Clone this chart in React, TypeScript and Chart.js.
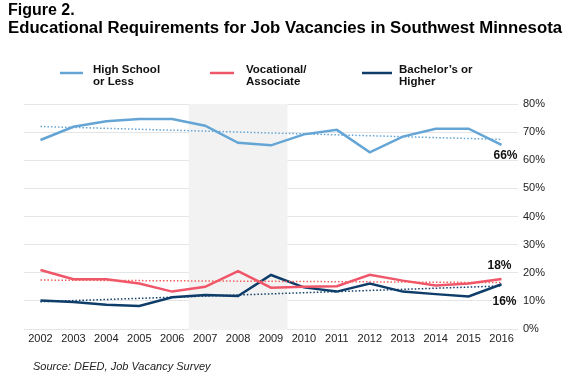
import React, { useEffect, useRef } from "react";
import { Chart, registerables } from "chart.js";

Chart.register(...registerables);

const years = ["2002","2003","2004","2005","2006","2007","2008","2009","2010","2011","2012","2013","2014","2015","2016"];
const highSchool = [67.2, 71.9, 73.9, 74.7, 74.7, 72.3, 66.2, 65.3, 69.2, 70.8, 62.8, 68.4, 71.2, 71.2, 65.5];
const vocational = [21.0, 17.7, 17.7, 16.2, 13.3, 15.0, 20.6, 14.7, 15.0, 15.2, 19.3, 17.2, 15.5, 16.2, 17.8];
const bachelors = [10.1, 9.6, 8.6, 8.2, 11.3, 12.1, 11.7, 19.2, 14.8, 13.3, 16.2, 13.3, 12.4, 11.6, 15.9];
const highTrendEnds = [72.0, 67.4];
const vocTrendEnds = [17.4, 16.5];
const bachTrendEnds = [9.7, 15.3];
const yTicks = [0, 10, 20, 30, 40, 50, 60, 70, 80];
const shadeFrom = "2006";
const shadeTo = "2009";
const endLabels = ["66%", "18%", "16%"];
const legendLabels = [["High School", "or Less"], ["Vocational/", "Associate"], ["Bachelor\u2019s or", "Higher"]];
const titleLines = ["Figure 2.", "Educational Requirements for Job Vacancies in Southwest Minnesota"];
const sourceText = "Source: DEED, Job Vacancy Survey";

const C_HS = "#64a5d6";
const C_VOC = "#f0566a";
const C_BA = "#0f3d6a";
const FONT = "'Liberation Sans', Arial, Helvetica, sans-serif";

function trend(ends: number[]) {
  return years.map((_, i) => (i === 0 ? ends[0] : i === years.length - 1 ? ends[1] : null));
}

export default function App() {
  const ref = useRef<HTMLCanvasElement>(null);
  useEffect(() => {
    const canvas = ref.current!;
    const decor = {
      id: "decor",
      beforeDatasetsDraw(chart: any) {
        const { ctx, chartArea, scales } = chart;
        const x = scales.x;
        const i0 = years.indexOf(shadeFrom);
        const i1 = years.indexOf(shadeTo);
        const left = (x.getPixelForValue(i0) + x.getPixelForValue(i0 + 1)) / 2;
        const right = (x.getPixelForValue(i1) + x.getPixelForValue(i1 + 1)) / 2;
        ctx.save();
        ctx.fillStyle = "#f2f2f2";
        ctx.fillRect(left, chartArea.top, right - left, chartArea.bottom - chartArea.top + 1);
        ctx.restore();
      },
      afterDraw(chart: any) {
        const { ctx, scales } = chart;
        ctx.save();
        // title
        ctx.fillStyle = "#000";
        ctx.textBaseline = "alphabetic";
        ctx.textAlign = "left";
        ctx.font = `bold 16px ${FONT}`;
        ctx.fillText(titleLines[0], 8, 15);
        const w = ctx.measureText(titleLines[1]).width;
        ctx.save();
        ctx.translate(8, 33);
        ctx.scale(554 / w, 1);
        ctx.fillText(titleLines[1], 0, 0);
        ctx.restore();
        // legend
        const colors = [C_HS, C_VOC, C_BA];
        const swX = [60, 210, 362];
        const swW = [23, 24, 30];
        const txX = [93, 246, 399];
        ctx.font = `bold 11.5px ${FONT}`;
        ctx.textBaseline = "middle";
        legendLabels.forEach((lines, k) => {
          ctx.strokeStyle = colors[k];
          ctx.lineWidth = 2.5;
          ctx.beginPath();
          ctx.moveTo(swX[k], 73);
          ctx.lineTo(swX[k] + swW[k], 73);
          ctx.stroke();
          ctx.fillStyle = "#111";
          ctx.fillText(lines[0], txX[k], 69.5);
          ctx.fillText(lines[1], txX[k], 82);
        });
        // end labels
        const x = scales.x;
        const y = scales.y;
        const last = years.length - 1;
        const xl = x.getPixelForValue(last);
        ctx.font = `bold 12px ${FONT}`;
        ctx.fillStyle = "#111";
        ctx.textAlign = "right";
        ctx.fillText(endLabels[0], xl + 16, y.getPixelForValue(highSchool[last]) + 11);
        ctx.textAlign = "center";
        ctx.fillText(endLabels[1], xl - 2, y.getPixelForValue(vocational[last]) - 13);
        ctx.textAlign = "right";
        ctx.fillText(endLabels[2], xl + 15, y.getPixelForValue(bachelors[last]) + 17);
        // source
        ctx.font = `italic 11px ${FONT}`;
        ctx.textAlign = "left";
        ctx.fillStyle = "#222";
        ctx.fillText(sourceText, 33, 367);
        ctx.restore();
      },
    };
    const solid = (data: number[], color: string) => ({
      data,
      borderColor: color,
      backgroundColor: color,
      borderWidth: 2.5,
      pointRadius: 0,
      tension: 0,
      fill: false,
    });
    const dotted = (data: (number | null)[], color: string) => ({
      data,
      borderColor: color,
      borderWidth: 1.5,
      borderDash: [1.5, 2],
      pointRadius: 0,
      spanGaps: true,
      fill: false,
    });
    const chart = new Chart(canvas, {
      type: "line",
      data: {
        labels: years,
        datasets: [
          dotted(trend(highTrendEnds), C_HS),
          dotted(trend(vocTrendEnds), "#f0605a"),
          dotted(trend(bachTrendEnds), C_BA),
          solid(vocational, C_VOC),
          solid(bachelors, C_BA),
          solid(highSchool, C_HS),
        ] as any,
      },
      options: {
        responsive: false,
        animation: false,
        devicePixelRatio: 1,
        layout: { padding: { left: 24, right: 0, top: 104, bottom: 26 } },
        plugins: { legend: { display: false }, tooltip: { enabled: false }, title: { display: false } },
        scales: {
          x: {
            type: "category",
            offset: true,
            grid: { display: false, drawTicks: false },
            border: { display: false },
            ticks: { color: "#222", font: { family: FONT, size: 11 }, padding: 3, maxRotation: 0, autoSkip: false },
            afterFit: (s: any) => { s.height = 20; },
          },
          y: {
            position: "right",
            min: 0,
            max: 80,
            afterBuildTicks: (s: any) => { s.ticks = yTicks.map((v) => ({ value: v })); },
            grid: { color: "#e5e5e5", lineWidth: 1, drawTicks: false },
            border: { display: false },
            ticks: { color: "#222", font: { family: FONT, size: 11 }, padding: 5, callback: (v: any) => v + "%" },
            afterFit: (s: any) => { s.width = 46; },
          },
        },
      } as any,
      plugins: [decor],
    });
    return () => chart.destroy();
  }, []);
  return (
    <div style={{ position: "absolute", left: 0, top: 0, width: 564, height: 375, background: "#fff" }}>
      <canvas ref={ref} width={564} height={375} style={{ display: "block", width: 564, height: 375 }} />
    </div>
  );
}
